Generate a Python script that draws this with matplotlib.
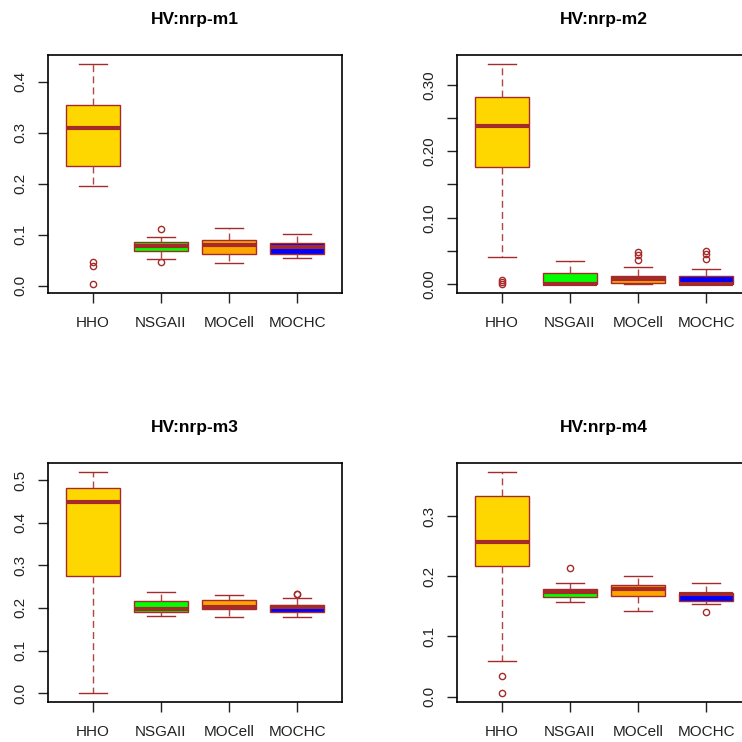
import matplotlib
matplotlib.use("Agg")
import matplotlib.pyplot as plt
from matplotlib.ticker import MultipleLocator, FuncFormatter

plt.rcParams['font.family'] = ['Liberation Sans', 'DejaVu Sans']

algorithms = ["HHO", "NSGAII", "MOCell", "MOCHC"]
box_colors = ["#FFD700", "#00FF00", "#FFA500", "#0000FF"]
titles = ["HV:nrp-m1", "HV:nrp-m2", "HV:nrp-m3", "HV:nrp-m4"]

# five-number summaries per algorithm: [low whisker, Q1, median, Q3, high whisker]
m1_stats = [[0.195, 0.234, 0.309, 0.355, 0.435],
            [0.052, 0.0685, 0.0776, 0.0848, 0.096],
            [0.0437, 0.062, 0.0803, 0.0894, 0.112],
            [0.0548, 0.062, 0.0763, 0.0829, 0.101]]
m1_fliers = [[0.0457, 0.0385, 0.0026], [0.110, 0.0457], [], []]

m2_stats = [[0.0405, 0.177, 0.2385, 0.282, 0.3315],
            [0.0, 0.0, 0.001, 0.0175, 0.0355],
            [0.0, 0.002, 0.0075, 0.0125, 0.0265],
            [0.0, 0.0, 0.0005, 0.012, 0.023]]
m2_fliers = [[0.006, 0.003, 0.001], [], [0.0485, 0.044, 0.0365], [0.0505, 0.046, 0.0385]]

m3_stats = [[0.0, 0.275, 0.4475, 0.480, 0.519],
            [0.182, 0.19, 0.197, 0.217, 0.2367],
            [0.178, 0.1975, 0.2023, 0.2196, 0.231],
            [0.178, 0.1897, 0.2016, 0.206, 0.222]]
m3_fliers = [[], [], [], [0.2335, 0.232]]

m4_stats = [[0.0584, 0.2165, 0.2577, 0.3335, 0.374],
            [0.1575, 0.1658, 0.1736, 0.1786, 0.1887],
            [0.142, 0.1675, 0.1797, 0.1853, 0.201],
            [0.1541, 0.1597, 0.170, 0.173, 0.1887]]
m4_fliers = [[0.0345, 0.0056], [0.2142], [], [0.140]]

panels = [(m1_stats, m1_fliers, 0.1, 0.1, "{:.1f}"),
          (m2_stats, m2_fliers, 0.05, 0.10, "{:.2f}"),
          (m3_stats, m3_fliers, 0.1, 0.1, "{:.1f}"),
          (m4_stats, m4_fliers, 0.1, 0.1, "{:.1f}")]

W = 742.0
# axes rectangles in pixels: left, top, right, bottom
rects = [(48, 55, 342, 293), (457, 55, 751, 293),
         (48, 463, 342, 702), (457, 463, 751, 702)]

brown = "#A52A2A"
fig = plt.figure(figsize=(7.42, 7.42), dpi=100)

for i, (stats, fliers, tick_step, label_step, fmt) in enumerate(panels):
    l, t, r, b = rects[i]
    ax = fig.add_axes([l / W, 1 - b / W, (r - l) / W, (b - t) / W])
    bxp_stats = []
    for name, s, f in zip(algorithms, stats, fliers):
        bxp_stats.append(dict(label=name, whislo=s[0], q1=s[1], med=s[2],
                              q3=s[3], whishi=s[4], fliers=f))
    res = ax.bxp(bxp_stats, positions=range(1, 5), widths=0.8,
                 patch_artist=True, showfliers=True,
                 boxprops=dict(edgecolor=brown, linewidth=1.0),
                 medianprops=dict(color=brown, linewidth=3.0, solid_capstyle='butt'),
                 whiskerprops=dict(color="#B04545", linewidth=1.0, linestyle=(0, (5, 3))),
                 capprops=dict(color=brown, linewidth=1.0),
                 capwidths=0.4,
                 flierprops=dict(marker='o', markerfacecolor='none',
                                 markeredgecolor=brown, markersize=4.5,
                                 markeredgewidth=1.0))
    for patch, c in zip(res['boxes'], box_colors):
        patch.set_facecolor(c)
    ax.set_xlim(0.34, 4.66)
    ax.margins(y=0.04)
    ax.autoscale(axis='y')
    ax.yaxis.set_major_locator(MultipleLocator(tick_step))

    def _f(v, pos, fmt=fmt, label_step=label_step):
        k = v / label_step
        if abs(k - round(k)) < 1e-6:
            return fmt.format(v)
        return ""
    ax.yaxis.set_major_formatter(FuncFormatter(_f))
    ax.tick_params(axis='y', labelrotation=90, length=7.2, width=1.0,
                   pad=8, labelsize=11, colors="#222222")
    ax.tick_params(axis='x', length=7.2, width=1.0, pad=9, labelsize=11,
                   colors="#222222")
    for lab in ax.get_yticklabels():
        lab.set_verticalalignment('center')
    for sp in ax.spines.values():
        sp.set_linewidth(1.2)
        sp.set_color("black")
    ax.set_title(titles[i], fontsize=12.5, fontweight='bold', pad=22)

fig.savefig("out.png", dpi=100)
